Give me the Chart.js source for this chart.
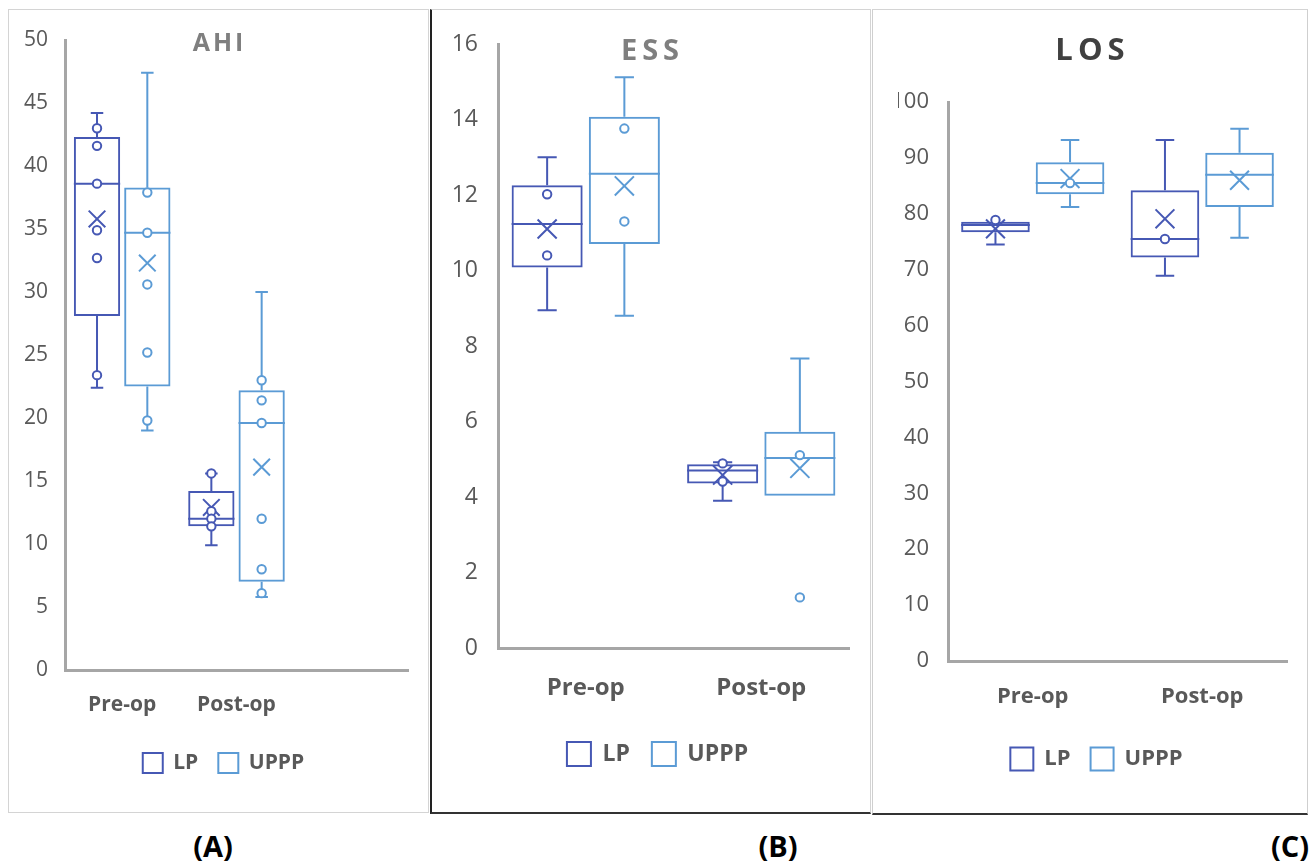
<!DOCTYPE html>
<html>
<head>
<meta charset="utf-8">
<script src="https://cdn.jsdelivr.net/npm/chart.js@4.4.1/dist/chart.umd.min.js"></script>
<style>
    html, body { margin: 0; padding: 0; background: #fff; }
    #page { position: relative; width: 1314px; height: 866px; overflow: hidden; background: #fff; font-family: 'Open Sans', sans-serif; }
    .frame { position: absolute; box-sizing: border-box; }
    .panel { position: absolute; }
    .tag { position: absolute; top: 826px; font-weight: 700; font-size: 29px; color: #000; transform: translateX(-50%); }
</style>
</head>
<body>
<div id="page">
    <div class="frame" style="left:8px;top:9px;width:421px;height:804px;border:1px solid #d4d4d4;"></div>
    <div class="frame" style="left:430px;top:9px;width:441px;height:805px;border-top:1px solid #d4d4d4;border-right:1px solid #d4d4d4;border-left:2px solid #222;border-bottom:2px solid #333;"></div>
    <div class="frame" style="left:872px;top:9px;width:436px;height:806px;border-top:1px solid #d4d4d4;border-left:1px solid #cfcfcf;border-right:1px solid #cfcfcf;border-bottom:2px solid #333;"></div>

    <div class="panel" style="left:8px;top:10px;"><canvas id="chart-ahi" width="420" height="800"></canvas></div>
    <div class="panel" style="left:432px;top:10px;"><canvas id="chart-ess" width="436" height="800"></canvas></div>
    <div class="panel" style="left:874px;top:10px;"><canvas id="chart-los" width="432" height="802"></canvas></div>

    <div class="tag" style="left:213px;">(A)</div>
    <div class="tag" style="left:778px;">(B)</div>
    <div class="tag" style="left:1290px;">(C)</div>
</div>

<script>
// Box plot data
const groups = ['Pre-op', 'Post-op'];
const seriesNames = ['LP', 'UPPP'];

// [min, q1, median, q3, max] per group
const ahiLP = [[22.4, 28.1, 38.6, 42.3, 44.2], [9.9, 11.4, 12.0, 14.2, 15.6]];
const ahiUPPP = [[19.0, 22.5, 34.7, 38.3, 47.4], [5.8, 7.0, 19.6, 22.2, 30.0]];
const ahiLPMean = [35.8, 12.9];
const ahiUPPPMean = [32.3, 16.1];
const ahiLPPoints = [[43.0, 41.6, 38.6, 34.9, 32.7, 23.4], [15.6, 12.6, 12.0, 11.4]];
const ahiUPPPPoints = [[37.9, 34.7, 30.6, 25.2, 19.8], [23.0, 21.4, 19.6, 12.0, 8.0, 6.1]];

const essLP = [[8.95, 10.08, 11.23, 12.26, 13.0], [3.9, 4.36, 4.70, 4.87, 4.92]];
const essUPPP = [[8.8, 10.7, 12.56, 14.07, 15.12], [4.03, 4.03, 5.03, 5.73, 7.67]];
const essLPMean = [11.1, 4.58];
const essUPPPMean = [12.24, 4.76];
const essLPPoints = [[12.02, 10.4], [4.89, 4.41]];
const essUPPPPoints = [[13.76, 11.3], [5.11, 1.34]];

const losLP = [[74.5, 76.7, 78.0, 78.6, 78.6], [68.9, 72.2, 75.5, 84.2, 93.2]];
const losUPPP = [[81.2, 83.5, 85.5, 89.2, 93.2], [75.7, 81.2, 87.0, 90.9, 95.2]];
const losLPMean = [77.3, 79.1];
const losUPPPMean = [86.3, 86.0];
const losLPPoints = [[78.9], [75.5]];
const losUPPPPoints = [[85.5], []];

const ahiTicks = { min: 0, max: 50, step: 5 };
const essTicks = { min: 0, max: 16, step: 2 };
const losTicks = { min: 0, max: 100, step: 10 };

const LP_COLOR = '#4658B4';
const UPPP_COLOR = '#5B9BD5';
const AXIS_COLOR = '#a6a6a6';
const TEXT_COLOR = '#595959';

Chart.defaults.font.family = "'Open Sans', sans-serif";

// whiskers, median, mean cross and inner points on top of the floating bars
const boxPlotPlugin = {
    id: 'boxPlot',
    afterDatasetsDraw(chart) {
        const ctx = chart.ctx;
        const yScale = chart.scales.y;
        const py = v => yScale.getPixelForValue(v);

        chart.data.datasets.forEach((ds, di) => {
            const meta = chart.getDatasetMeta(di);
            meta.data.forEach((bar, i) => {
                const s = ds.stats[i];
                if (!s) return;
                const cx = bar.x;
                const w = bar.width;
                const cap = w * 0.27;

                ctx.save();
                ctx.strokeStyle = ds.borderColor;
                ctx.lineWidth = 2;
                ctx.beginPath();
                if (s[4] > s[3]) {
                    ctx.moveTo(cx, py(s[3]));
                    ctx.lineTo(cx, py(s[4]));
                    ctx.moveTo(cx - cap / 2, py(s[4]));
                    ctx.lineTo(cx + cap / 2, py(s[4]));
                }
                if (s[0] < s[1]) {
                    ctx.moveTo(cx, py(s[1]));
                    ctx.lineTo(cx, py(s[0]));
                    ctx.moveTo(cx - cap / 2, py(s[0]));
                    ctx.lineTo(cx + cap / 2, py(s[0]));
                }
                ctx.moveTo(cx - w / 2, py(s[2]));
                ctx.lineTo(cx + w / 2, py(s[2]));
                ctx.stroke();

                // mean
                const m = ds.means[i];
                const h = 6 + w * 0.05;
                ctx.beginPath();
                ctx.moveTo(cx - h, py(m) - h);
                ctx.lineTo(cx + h, py(m) + h);
                ctx.moveTo(cx + h, py(m) - h);
                ctx.lineTo(cx - h, py(m) + h);
                ctx.stroke();

                // inner points
                ds.points[i].forEach(v => {
                    ctx.beginPath();
                    ctx.arc(cx, py(v), 4.2, 0, Math.PI * 2);
                    ctx.fillStyle = '#fff';
                    ctx.fill();
                    ctx.stroke();
                });
                ctx.restore();
            });
        });
    }
};

// title sits inside the plot area, centred on the whole panel
const panelTitlePlugin = {
    id: 'panelTitle',
    afterLayout(chart) {
        const opts = chart.options.plugins.panelTitle;
        // nudge the legend so it centres on the panel like the original
        if (opts && opts.legendShift && chart.legend) {
            chart.legend.left += opts.legendShift;
            chart.legend.right += opts.legendShift;
        }
    },
    afterDraw(chart) {
        const opts = chart.options.plugins.panelTitle;
        if (!opts || !opts.text) return;
        const ctx = chart.ctx;
        ctx.save();
        ctx.font = `700 ${opts.size}px 'Open Sans', sans-serif`;
        ctx.fillStyle = opts.color;
        ctx.textAlign = 'center';
        ctx.textBaseline = 'middle';
        if ('letterSpacing' in ctx) ctx.letterSpacing = opts.spacing + 'px';
        ctx.fillText(opts.text, chart.width / 2 + opts.spacing / 2, opts.y);
        ctx.restore();
    }
};

function makeDataset(label, color, stats, means, points) {
    return {
        label: label,
        data: stats.map(s => [s[1], s[3]]),
        stats: stats,
        means: means,
        points: points,
        backgroundColor: 'rgba(255,255,255,0)',
        borderColor: color,
        borderWidth: 2,
        borderSkipped: false,
        categoryPercentage: 0.88,
        barPercentage: 0.92
    };
}

function createBoxChart(canvasId, cfg) {
    const ctx = document.getElementById(canvasId).getContext('2d');
    return new Chart(ctx, {
        type: 'bar',
        data: {
            labels: cfg.labels,
            datasets: [
                makeDataset(seriesNames[0], LP_COLOR, cfg.lp, cfg.lpMean, cfg.lpPoints),
                makeDataset(seriesNames[1], UPPP_COLOR, cfg.uppp, cfg.upppMean, cfg.upppPoints)
            ]
        },
        options: {
            responsive: false,
            animation: false,
            devicePixelRatio: 1,
            layout: { padding: cfg.padding },
            scales: {
                x: {
                    grid: { display: false, drawTicks: false },
                    border: { color: AXIS_COLOR, width: 3 },
                    ticks: {
                        color: TEXT_COLOR,
                        padding: cfg.xPad,
                        autoSkip: false,
                        maxRotation: 0,
                        font: { size: cfg.xFont, weight: '700' }
                    },
                    afterFit: s => { s.height = cfg.xHeight; }
                },
                y: {
                    min: cfg.ticks.min,
                    max: cfg.ticks.max,
                    grid: { display: false, drawTicks: false },
                    border: { color: AXIS_COLOR, width: 3 },
                    ticks: {
                        stepSize: cfg.ticks.step,
                        color: TEXT_COLOR,
                        padding: cfg.yPad,
                        font: { size: cfg.yFont }
                    },
                    afterFit: s => { s.width = 50; }
                }
            },
            plugins: {
                legend: {
                    position: 'bottom',
                    labels: {
                        color: TEXT_COLOR,
                        boxWidth: cfg.box,
                        boxHeight: cfg.box,
                        padding: cfg.legendPad,
                        font: { size: cfg.legendFont, weight: '700' }
                    }
                },
                tooltip: { enabled: false },
                panelTitle: cfg.title
            }
        },
        plugins: [boxPlotPlugin, panelTitlePlugin]
    });
}

createBoxChart('chart-ahi', {
    labels: [...groups, ''],
    lp: ahiLP, lpMean: ahiLPMean, lpPoints: ahiLPPoints,
    uppp: ahiUPPP, upppMean: ahiUPPPMean, upppPoints: ahiUPPPPoints,
    ticks: ahiTicks,
    padding: { left: 7, right: 20, top: 30, bottom: 26.5 },
    xHeight: 62.5, xPad: 22, xFont: 21,
    yPad: 17, yFont: 21,
    box: 20, legendFont: 21, legendPad: 20,
    title: { text: 'AHI', y: 34, size: 25, color: '#7f7f7f', spacing: 3, legendShift: 12 }
});

createBoxChart('chart-ess', {
    labels: groups,
    lp: essLP, lpMean: essLPMean, lpPoints: essLPPoints,
    uppp: essUPPP, upppMean: essUPPPMean, upppPoints: essUPPPPoints,
    ticks: essTicks,
    padding: { left: 16, right: 19, top: 34, bottom: 34 },
    xHeight: 72, xPad: 26, xFont: 24,
    yPad: 20, yFont: 23,
    box: 24, legendFont: 23, legendPad: 22,
    title: { text: 'ESS', y: 41.5, size: 29, color: '#7f7f7f', spacing: 5, legendShift: 9 }
});

createBoxChart('chart-los', {
    labels: groups,
    lp: losLP, lpMean: losLPMean, lpPoints: losLPPoints,
    uppp: losUPPP, upppMean: losUPPPMean, upppPoints: losUPPPPoints,
    ticks: losTicks,
    padding: { left: 24, right: 19, top: 92, bottom: 31.5 },
    xHeight: 66.5, xPad: 23, xFont: 22,
    yPad: 19, yFont: 22,
    box: 23, legendFont: 22, legendPad: 20,
    title: { text: 'LOS', y: 41, size: 31, color: '#404040', spacing: 5, legendShift: 4 }
});
</script>
</body>
</html>
